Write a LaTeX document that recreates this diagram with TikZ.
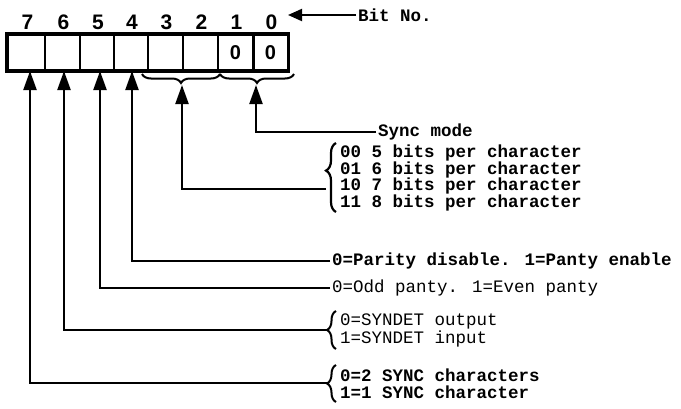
\documentclass[tikz,border=0pt]{standalone}
\usepackage{fontspec}
\setmainfont{Liberation Mono}
\newfontfamily\digitfont{Liberation Sans}
\usetikzlibrary{arrows.meta,decorations.pathreplacing}
\begin{document}
\begin{tikzpicture}[x=1pt,y=-1pt,
  cell/.style={draw,line width=2pt,minimum width=35pt,minimum height=35pt,inner sep=0pt,
    font=\digitfont\bfseries\fontsize{20}{20}\selectfont},
  bitnum/.style={font=\digitfont\bfseries\fontsize{21}{21}\selectfont,inner sep=0pt},
  lbl/.style={anchor=west,inner sep=2pt,font=\bfseries\fontsize{17.5}{17}\selectfont},
  lbll/.style={anchor=west,inner sep=2pt,font=\fontsize{17.5}{17}\selectfont},
  conn/.style={line width=2.2pt,-{Triangle[length=19pt,width=13pt]}},
  brc/.style={line width=2pt,decorate,decoration={brace,amplitude=9pt}},
  brca/.style={line width=2.2pt,decorate,decoration={brace,amplitude=10pt,aspect=#1}}]
\useasboundingbox (0,0) rectangle (681,408);
% register cells
\foreach \b/\x in {7/26.5,6/62.5,5/97,4/131,3/165.5,2/200.5,1/235.5,0/270.5}{
  \node[bitnum] (n\b) at (\x+1,22) {\b};
}
\node[cell,minimum width=37pt] (c7) at (26.5,52.5) {};
\node[cell] (c6) at (62.5,52.5) {};
\node[cell,minimum width=34pt] (c5) at (97,52.5) {};
\node[cell,minimum width=34pt] (c4) at (131,52.5) {};
\node[cell] (c3) at (165.5,52.5) {};
\node[cell] (c2) at (200.5,52.5) {};
\node[cell] (c1) at (235.5,52.5) {0};
\node[cell,minimum width=34pt] (c0) at (270.5,52.5) {0};
\draw[line width=3.5pt] (c7.north west) rectangle (c0.south east);
% Bit No.
\node[lbl] (bitno) at (356,15) {Bit No.};
\draw[line width=2pt,-{Triangle[length=14pt,width=12pt]}] (bitno.west) -- (288,15);
% brace under bits 3..0
\draw[brc] (220,74) -- (142,74);
\draw[brc] (294,74) -- (220,74);
\coordinate (t32) at (182,85);
\coordinate (t10) at (256,85);
% labels
\node[lbl] (sync) at (376,132) {Sync mode};
\node[lbl] (b00) at (338,153) {00 5 bits per character};
\node[lbl] (b01) at (338,170) {01 6 bits per character};
\node[lbl] (b10) at (338,186) {10 7 bits per character};
\node[lbl] (b11) at (338,203) {11 8 bits per character};
\node[lbl] (par) at (330,261) {0=Parity disable. 1=Panty enable};
\node[lbll] (odd) at (330,288) {0=Odd panty. 1=Even panty};
\node[lbll] (sy0) at (338,321) {0=SYNDET output};
\node[lbll] (sy1) at (338,339) {1=SYNDET input};
\node[lbl] (sc0) at (338,375) {0=2 SYNC characters};
\node[lbl] (sc1) at (338,392) {1=1 SYNC character};
% braces at the right
\draw[brca=0.6] (336,212) -- (336,143);
\coordinate (bb) at (326,189);
\draw[brc] (336,349) -- (336,311);
\coordinate (sb) at (327,330);
\draw[brc] (336,402) -- (336,365);
\coordinate (cb) at (327,383);
% connectors
\draw[conn] (sync.west) -| (t10);
\draw[conn] (bb) -| (t32);
\draw[conn] (par.west) -| (132,71);
\draw[conn] (odd.west) -| (100,71);
\draw[conn] (sb) -| (64,71);
\draw[conn] (cb) -| (30,71);
\end{tikzpicture}
\end{document}
